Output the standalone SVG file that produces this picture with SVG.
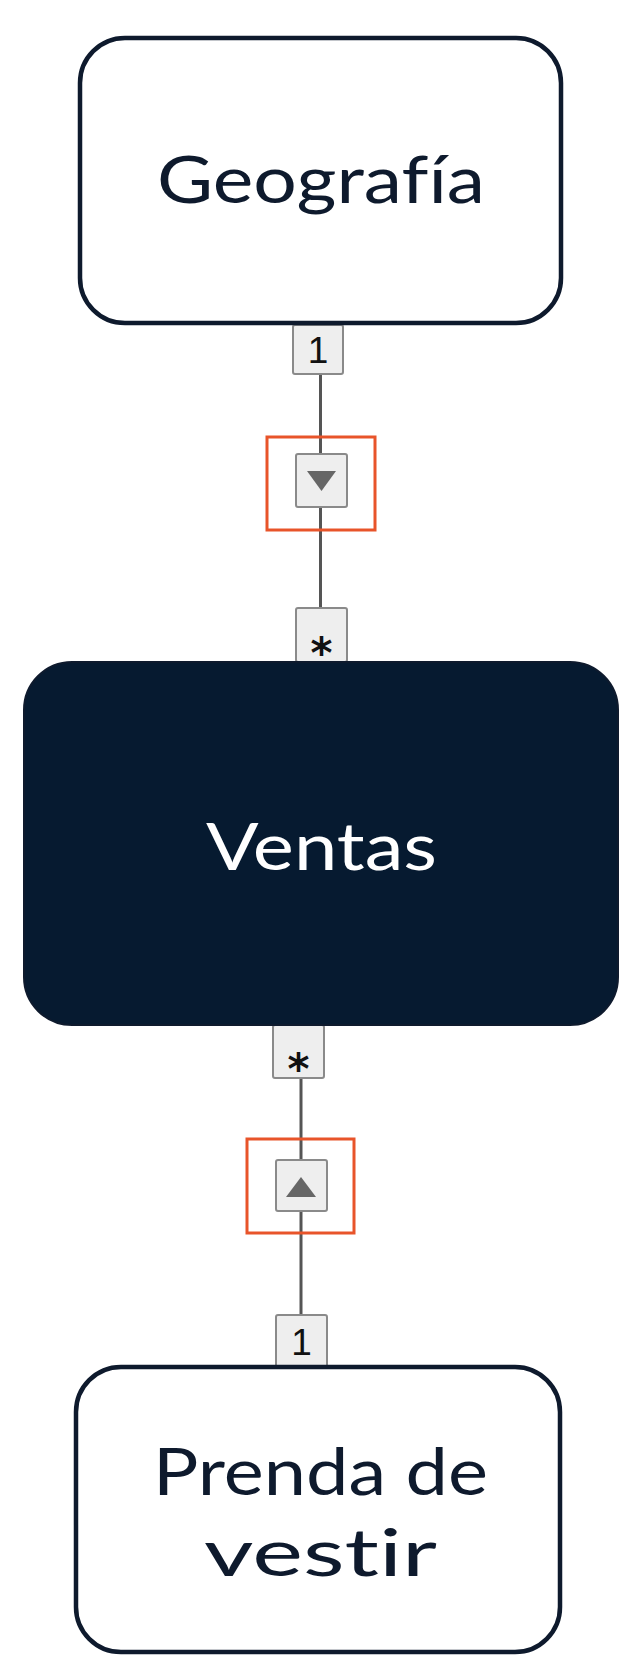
<svg xmlns="http://www.w3.org/2000/svg" width="638" height="1680" viewBox="0 0 638 1680">
<style>
.node{fill:#ffffff;stroke:#0e1a2d;stroke-width:4.5}
.dark{fill:#061a30;stroke:#0e1a2d;stroke-width:2}
.ntext{font-family:Lato,"Noto Sans",sans-serif;font-size:66px;fill:#0e1a2d;text-anchor:middle;font-variant-ligatures:none;font-feature-settings:"liga" 0,"clig" 0,"dlig" 0}
.wtext{fill:#ffffff}
.lbl{fill:#eeeeee;stroke:#8a8a8a;stroke-width:2}
.ltext{font-family:"Liberation Sans",Arial,sans-serif;font-size:37px;fill:#111111;text-anchor:middle}
.star{font-family:"DejaVu Sans",sans-serif;font-size:42px;font-weight:bold;fill:#111111;text-anchor:middle}
.line{stroke:#555555;stroke-width:3;fill:none}
.sel{fill:none;stroke:#e8542a;stroke-width:3}
.tri{fill:#666666}
</style>
<rect width="638" height="1680" fill="#ffffff"/>
<g id="connectors">
  <g id="conn-geo-ventas">
    <line class="line" x1="320.5" y1="374" x2="320.5" y2="608"/>
    <rect class="sel" x="267" y="437" width="108" height="93"/>
    <rect class="lbl" x="296" y="454" width="51" height="53" rx="2"/>
    <polygon class="tri" points="307,471 336,471 321.5,491"/>
    <rect class="lbl" x="293" y="325" width="50" height="49" rx="2"/>
    <text class="ltext" x="318" y="363">1</text>
    <rect class="lbl" x="296" y="608" width="51" height="54" rx="2"/>
    <text class="star" x="321.5" y="668">*</text>
  </g>
  <g id="conn-prenda-ventas">
    <line class="line" x1="301" y1="1078" x2="301" y2="1315"/>
    <rect class="sel" x="247" y="1139" width="107" height="94"/>
    <rect class="lbl" x="276" y="1160" width="51" height="51" rx="2"/>
    <polygon class="tri" points="286,1197 316,1197 301,1177"/>
    <rect class="lbl" x="273" y="1025" width="51" height="53" rx="2"/>
    <text class="star" x="298.5" y="1084">*</text>
    <rect class="lbl" x="276" y="1315" width="51" height="52" rx="2"/>
    <text class="ltext" x="301.5" y="1355">1</text>
  </g>
</g>
<g id="node-geografia">
  <rect class="node" x="80" y="38" width="481" height="285" rx="45"/>
  <text class="ntext" x="321" y="203" textLength="328" lengthAdjust="spacingAndGlyphs">Geografía</text>
</g>
<g id="node-ventas">
  <rect class="dark" x="24" y="662" width="594" height="363" rx="48"/>
  <text class="ntext wtext" x="321.5" y="870" textLength="231" lengthAdjust="spacingAndGlyphs">Ventas</text>
</g>
<g id="node-prenda">
  <rect class="node" x="76" y="1367" width="484" height="285" rx="45"/>
  <text class="ntext" x="320.5" y="1495" textLength="335" lengthAdjust="spacingAndGlyphs">Prenda de</text>
  <text class="ntext" x="320.5" y="1576" textLength="233" lengthAdjust="spacingAndGlyphs">vestir</text>
</g>
</svg>
